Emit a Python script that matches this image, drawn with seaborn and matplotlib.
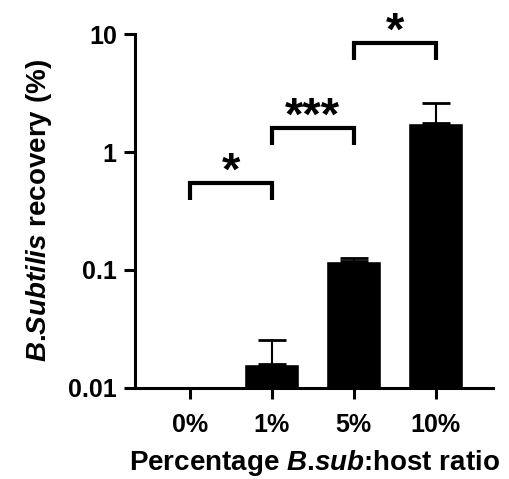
import numpy as np
import pandas as pd
import matplotlib
matplotlib.use("Agg")
import matplotlib.pyplot as plt
import seaborn as sns

# ==========================================
# DATA
# ==========================================

groups = ["0%", "1%", "5%", "10%"]
recovery_mean = [0.0, 0.016, 0.12, 1.75]
recovery_sd = [0.0, 0.0095, 0.007, 0.85]

# significance brackets: (left group, right group), height, label
sig_pairs = [(0, 1), (1, 2), (2, 3)]
sig_heights = [0.55, 1.6, 8.4]
sig_labels = ["*", "***", "*"]

# ==========================================
# STYLE
# ==========================================

sns.set_theme(style="ticks")
plt.rcParams["font.family"] = ["Liberation Sans", "DejaVu Sans"]
plt.rcParams["font.weight"] = "bold"
plt.rcParams["text.color"] = "black"
plt.rcParams["axes.labelcolor"] = "black"
plt.rcParams["mathtext.fontset"] = "custom"
plt.rcParams["mathtext.it"] = "Liberation Sans:italic:bold"
plt.rcParams["mathtext.rm"] = "Liberation Sans:bold"

df = pd.DataFrame({"group": groups, "recovery": recovery_mean})

fig = plt.figure(figsize=(5.09, 4.79), dpi=100)
ax = fig.add_axes([0.265, 0.19, 0.704, 0.739])

sns.barplot(
    data=df,
    x="group",
    y="recovery",
    color="black",
    saturation=1,
    width=0.67,
    errorbar=None,
    ax=ax,
)

ax.set_yscale("log")
ax.set_ylim(0.01, 10)
ax.set_xlim(-0.67, 3.7)

# one-sided error bars (upper only)
means = np.array(recovery_mean)
sds = np.array(recovery_sd)
pos = np.arange(len(groups))
mask = means > 0
ax.errorbar(
    pos[mask],
    means[mask],
    yerr=[np.zeros(mask.sum()), sds[mask]],
    fmt="none",
    ecolor="black",
    elinewidth=1.5,
    capsize=10,
    capthick=2,
    zorder=1,
)

# significance brackets
for (a, b), h, lab in zip(sig_pairs, sig_heights, sig_labels):
    ax.plot(
        [a, a, b, b],
        [h * 0.71, h, h, h * 0.71],
        color="black",
        lw=3,
        clip_on=False,
        solid_capstyle="butt",
        solid_joinstyle="miter",
    )
    ax.annotate(
        lab,
        xy=((a + b) / 2, h),
        xytext=(0, -1.5),
        textcoords="offset points",
        ha="center",
        va="baseline",
        fontsize=34,
        fontweight="bold",
        annotation_clip=False,
    )

ax.set_yticks([0.01, 0.1, 1, 10])
ax.set_yticklabels(["0.01", "0.1", "1", "10"])
ax.yaxis.set_minor_locator(matplotlib.ticker.NullLocator())

for side in ["top", "right"]:
    ax.spines[side].set_visible(False)
for side in ["left", "bottom"]:
    ax.spines[side].set_linewidth(2.2)
    ax.spines[side].set_color("black")

ax.tick_params(
    axis="both",
    length=8,
    width=2.2,
    color="black",
    labelsize=18,
    labelcolor="black",
)
ax.tick_params(axis="x", pad=10)
ax.tick_params(axis="y", pad=5)
for t in ax.get_xticklabels() + ax.get_yticklabels():
    t.set_fontweight("bold")

ax.set_xlabel(
    "Percentage $\\it{B}$.$\\it{sub}$:host ratio",
    fontsize=20,
    fontweight="bold",
    labelpad=8,
)
ax.set_ylabel(
    "$\\it{B}$.$\\it{Subtilis}$ recovery (%)",
    fontsize=20,
    fontweight="bold",
    labelpad=10,
)

fig.savefig("out.png", dpi=100, facecolor="white")
